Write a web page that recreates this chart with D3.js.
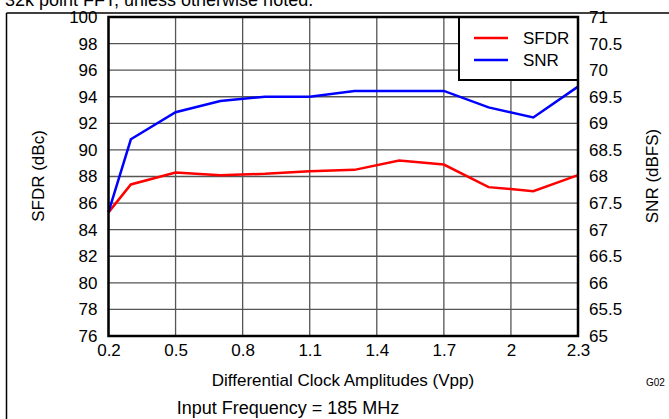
<!DOCTYPE html>
<html>
<head>
<meta charset="utf-8">
<script src="https://cdn.jsdelivr.net/npm/d3@7"></script>
<style>
  body { margin: 0; background: #fff; }
  text { font-family: "Liberation Sans", Arial, sans-serif; fill: #000; }
</style>
</head>
<body>
<div id="chart"></div>
<script>
let amplitudes = [0.2, 0.3, 0.5, 0.7, 0.9, 1.1, 1.3, 1.5, 1.7, 1.9, 2.1, 2.3];
let sfdrValues = [85.3, 87.4, 88.3, 88.1, 88.2, 88.4, 88.5, 89.2, 88.9, 87.2, 86.9, 88.1];
let snrValues = [67.33, 68.7, 69.21, 69.42, 69.5, 69.5, 69.61, 69.61, 69.61, 69.3, 69.11, 69.69];
let xTicks = [0.2, 0.5, 0.8, 1.1, 1.4, 1.7, 2, 2.3];
let leftTicks = [76, 78, 80, 82, 84, 86, 88, 90, 92, 94, 96, 98, 100];
let rightTicks = [65, 65.5, 66, 66.5, 67, 67.5, 68, 68.5, 69, 69.5, 70, 70.5, 71];

let W = 669, H = 419;
let margin = {top: 17, left: 108.5, right: 91, bottom: 83};
let width = W - margin.left - margin.right,
    height = H - margin.top - margin.bottom;

let svg = d3.select("#chart").append("svg")
    .attr("width", W).attr("height", H);

// page frame bits + clipped header
svg.append("text").attr("x", 5).attr("y", 6)
    .style("font-size", "18px").text("32k point FFT, unless otherwise noted.");
svg.append("line").attr("x1", 6.5).attr("x2", W).attr("y1", 13).attr("y2", 13)
    .attr("stroke", "#000").attr("stroke-width", 1.5);
svg.append("line").attr("x1", 6.5).attr("x2", 6.5).attr("y1", 13).attr("y2", H)
    .attr("stroke", "#000").attr("stroke-width", 1.5);

let g = svg.append("g").attr("transform", "translate(" + margin.left + "," + margin.top + ")");

let x = d3.scaleLinear().domain([0.2, 2.3]).range([0, width]);
let yL = d3.scaleLinear().domain([76, 100]).range([height, 0]);
let yR = d3.scaleLinear().domain([65, 71]).range([height, 0]);

// grid
g.append("g").selectAll("line").data(xTicks).enter().append("line")
    .attr("x1", d => x(d)).attr("x2", d => x(d)).attr("y1", 0).attr("y2", height)
    .attr("stroke", "#555").attr("stroke-width", 1.3);
g.append("g").selectAll("line").data(leftTicks).enter().append("line")
    .attr("x1", 0).attr("x2", width).attr("y1", d => yL(d)).attr("y2", d => yL(d))
    .attr("stroke", "#555").attr("stroke-width", 1.3);

// axes (labels only, frame drawn separately)
let xAxis = g.append("g").attr("transform", "translate(0," + height + ")")
    .call(d3.axisBottom(x).tickValues(xTicks).tickSize(0).tickPadding(6).tickFormat(d3.format("")));
let leftAxis = g.append("g")
    .call(d3.axisLeft(yL).tickValues(leftTicks).tickSize(0).tickPadding(11));
let rightAxis = g.append("g").attr("transform", "translate(" + width + ",0)")
    .call(d3.axisRight(yR).tickValues(rightTicks).tickSize(0).tickPadding(11).tickFormat(d3.format("")));
[xAxis, leftAxis, rightAxis].forEach(a => {
    a.select(".domain").remove();
    a.selectAll("text").style("font-size", "17px").attr("fill", "#000")
        .style("font-family", "'Liberation Sans', Arial, sans-serif");
});
xAxis.selectAll("text").attr("dy", "0.85em");

// lines
let sfdrLine = d3.line().x((d, i) => x(amplitudes[i])).y(d => yL(d));
let snrLine = d3.line().x((d, i) => x(amplitudes[i])).y(d => yR(d));
g.append("path").datum(sfdrValues).attr("d", sfdrLine)
    .attr("fill", "none").attr("stroke", "#ff0000").attr("stroke-width", 2.5);
g.append("path").datum(snrValues).attr("d", snrLine)
    .attr("fill", "none").attr("stroke", "#0000ff").attr("stroke-width", 2.5);

// legend
let legend = g.append("g").attr("transform", "translate(" + (width - 119) + ",0)");
legend.append("rect").attr("x", 0).attr("y", 0).attr("width", 119).attr("height", 63)
    .attr("fill", "#fff").attr("stroke", "#000").attr("stroke-width", 2);
[["SFDR", "#ff0000"], ["SNR", "#0000ff"]].forEach((s, i) => {
    legend.append("line").attr("x1", 15).attr("x2", 49)
        .attr("y1", 21 + i * 22).attr("y2", 21 + i * 22)
        .attr("stroke", s[1]).attr("stroke-width", 2.5);
    legend.append("text").attr("x", 64).attr("y", 21 + i * 22).attr("dy", "0.35em")
        .style("font-size", "17px").text(s[0]);
});

// plot frame
g.append("rect").attr("width", width).attr("height", height)
    .attr("fill", "none").attr("stroke", "#000").attr("stroke-width", 2.5);

// titles
svg.append("text").attr("transform", "translate(44,176) rotate(-90)")
    .attr("text-anchor", "middle").style("font-size", "17px").text("SFDR (dBc)");
svg.append("text").attr("transform", "translate(658,176) rotate(-90)")
    .attr("text-anchor", "middle").style("font-size", "17px").text("SNR (dBFS)");
svg.append("text").attr("x", 343).attr("y", 386)
    .attr("text-anchor", "middle").style("font-size", "17px").text("Differential Clock Amplitudes (Vpp)");
svg.append("text").attr("x", 288).attr("y", 414)
    .attr("text-anchor", "middle").style("font-size", "18px").text("Input Frequency = 185 MHz");
svg.append("text").attr("x", 646).attr("y", 386)
    .style("font-size", "10px").text("G02");
</script>
</body>
</html>
